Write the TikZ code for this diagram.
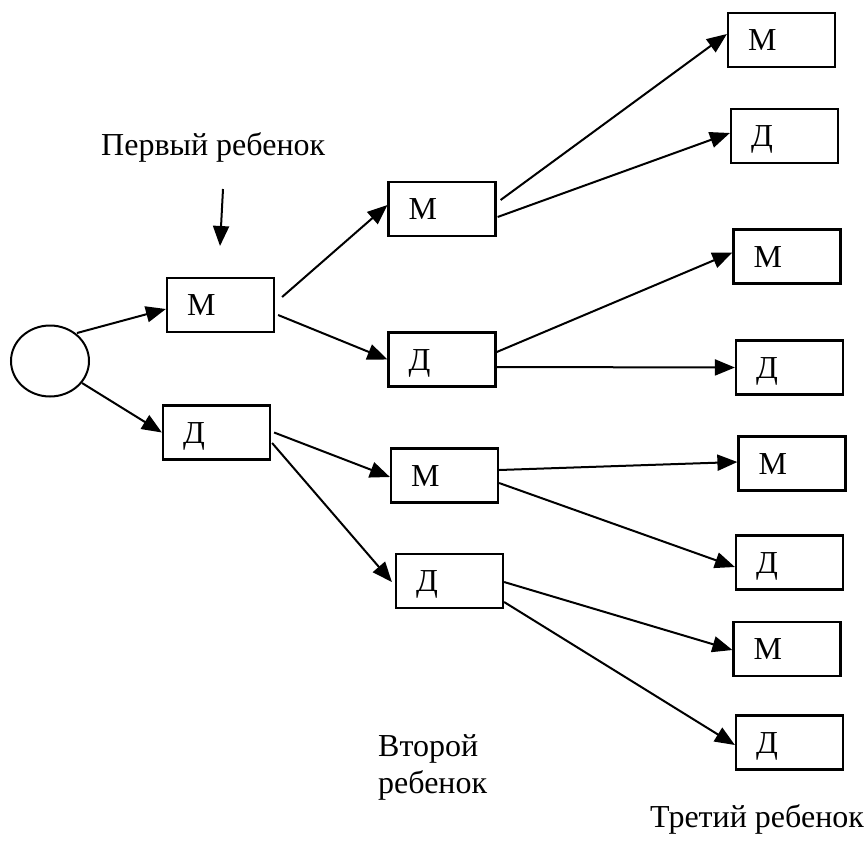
\documentclass[tikz,border=0pt]{standalone}
\usepackage{fontspec}
\setmainfont{Liberation Serif}
\usetikzlibrary{arrows.meta,calc,shapes.geometric}
\begin{document}
\begin{tikzpicture}[x=1pt,y=-1pt,
  every node/.style={font=\fontsize{32}{37}\selectfont},
  box/.style={draw,line width=2.2pt,minimum width=107pt,minimum height=54pt,
    text width=67pt,inner xsep=20pt,inner ysep=0pt,align=left,
    text height=21pt,text depth=0pt},
  arr/.style={line width=2pt,-{Triangle[length=20pt,width=16pt]}},
  lbl/.style={anchor=base west,inner sep=0pt}]
\useasboundingbox (0,0) rectangle (868,841);
% root
\node[draw,ellipse,line width=2pt,minimum width=78pt,minimum height=71pt,inner sep=0pt] (E) at (50,361) {};
% first level
\node[box] (M1) at (220.5,305) {М};
\node[box] (D1) at (216.5,432.5) {Д};
% second level
\node[box] (M2) at (442,209) {М};
\node[box] (D2) at (442,359.5) {Д};
\node[box] (M3) at (444.5,475.5) {М};
\node[box] (D3) at (449.5,581) {Д};
% third level
\node[box] (T1) at (781.5,40) {М};
\node[box] (T2) at (784.5,136) {Д};
\node[box] (T3) at (787,256.5) {М};
\node[box] (T4) at (789.5,367.5) {Д};
\node[box] (T5) at (792,463.5) {М};
\node[box] (T6) at (789.5,562.5) {Д};
\node[box] (T7) at (787,649) {М};
\node[box] (T8) at (789.5,742.5) {Д};
% labels
\node[lbl] (L1) at (101,155) {Первый ребенок};
\node[lbl,align=left] (L2) at (378,793) {Второй\\ребенок};
\node[lbl] (L3) at (650,827) {Третий ребенок};
\coordinate (P1) at (223,189);
\coordinate (P2) at (220,246);
% connectors
\draw[arr] (P1) -- (P2);
\draw[arr] ($(E)+(27,-28)$) -- ($(M1.west)+(0,4)$);
\draw[arr] ($(E)+(32,22)$) -- (D1.west);
\draw[arr] ($(M1.east)+(7,-8)$) -- ($(M2.west)+(0,-4)$);
\draw[arr] ($(M1.east)+(3,10)$) -- (D2.west);
\draw[arr] ($(D1.east)+(3,0)$) -- ($(M3.west)+(0,1.5)$);
\draw[arr] ($(D1.east)+(1,10.5)$) -- ($(D3.west)+(-3,1)$);
\draw[arr] ($(M2.east)+(4,-9)$) -- ($(T1.west)+(0,-6)$);
\draw[arr] ($(M2.east)+(1,8)$) -- ($(T2.west)+(0,-3)$);
\draw[arr] ($(D2.east)+(-1,-7)$) -- ($(T3.west)+(0,-4)$);
\draw[arr] ($(D2.east)+(0,7.5)$) -- (T4.west);
\draw[arr] ($(M3.east)+(0,-5.5)$) -- ($(T5.west)+(0,-1.5)$);
\draw[arr] ($(M3.east)+(0,7.5)$) -- ($(T6.west)+(0,4.5)$);
\draw[arr] ($(D3.east)+(0,1)$) -- ($(T7.west)+(0,1)$);
\draw[arr] ($(D3.east)+(0,21)$) -- ($(T8.west)+(0,2.5)$);
\end{tikzpicture}
\end{document}
